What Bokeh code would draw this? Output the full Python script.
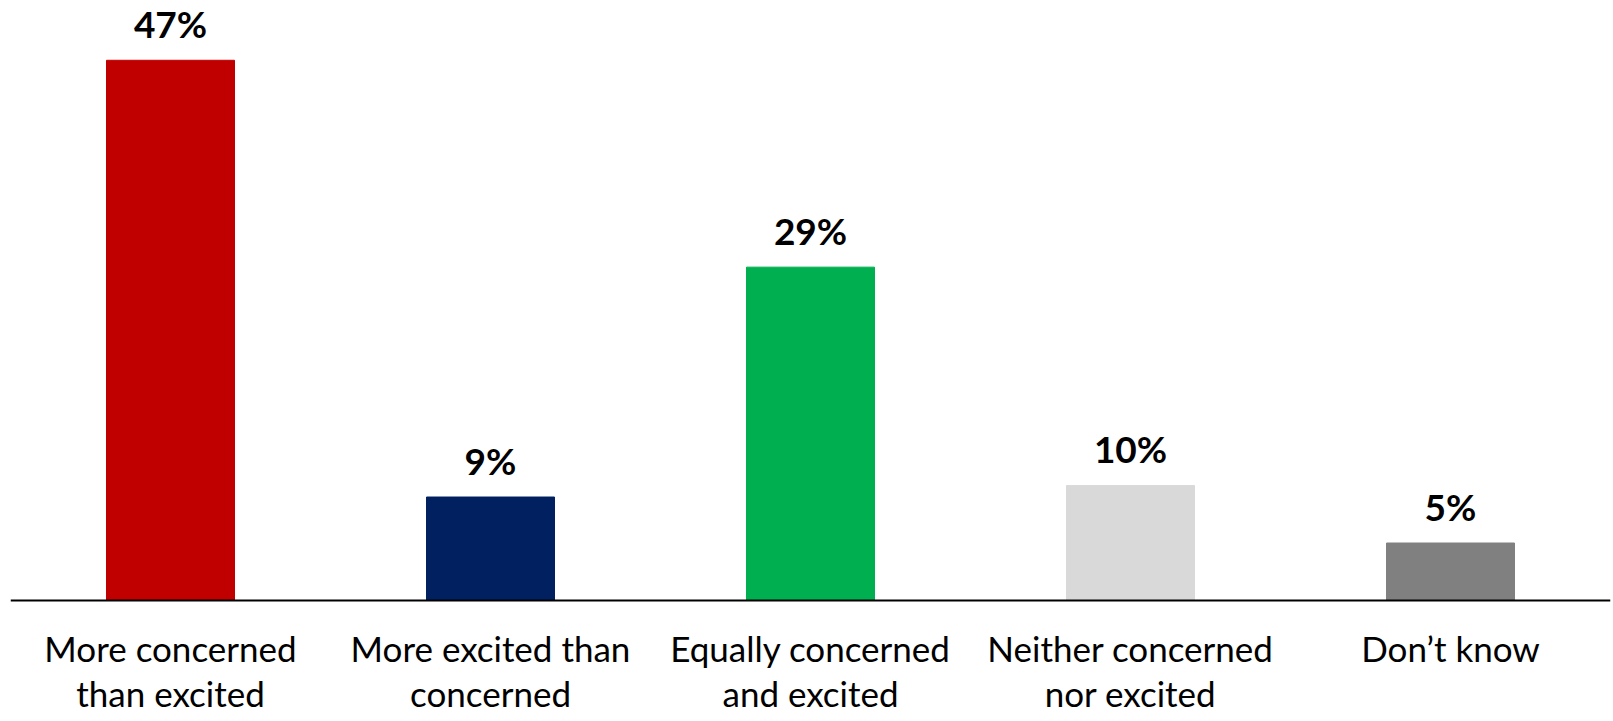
from bokeh.plotting import figure
from bokeh.models import ColumnDataSource, FactorRange, Range1d, Span
from bokeh.core.properties import value
from bokeh.embed import file_html
from bokeh.resources import INLINE

categories = ["More concerned than excited", "More excited than concerned",
              "Equally concerned and excited", "Neither concerned nor excited", "Don’t know"]
tick_labels = ["More concerned\nthan excited", "More excited than\nconcerned",
               "Equally concerned\nand excited", "Neither concerned\nnor excited", "Don’t know"]
values = [47, 9, 29, 10, 5]
value_labels = ["47%", "9%", "29%", "10%", "5%"]
colors = ["#C00000", "#002060", "#00B050", "#D9D9D9", "#808080"]

src = ColumnDataSource(dict(cat=categories, val=values, lab=value_labels, col=colors,
                            tick=tick_labels, zero=[0] * len(values)))

p = figure(x_range=FactorRange(*categories, range_padding=0), y_range=Range1d(-10.53, 52.2),
           frame_width=1600, frame_height=721, min_border_left=10, min_border_right=3,
           min_border_top=0, min_border_bottom=0, output_backend="svg",
           toolbar_location=None, y_axis_location=None, x_axis_location=None,
           outline_line_color=None, background_fill_color="white", border_fill_color="white")

p.vbar(x="cat", top="val", width=0.4, color="col", source=src)
p.add_layout(Span(location=0, dimension="width", line_color="black", line_width=2))

p.text(x="cat", y="val", text="lab", source=src, text_align="center",
       text_baseline="alphabetic", y_offset=-37, text_font=value("Lato"),
       text_font_style="bold", text_font_size="37px", text_color="black")
p.text(x="cat", y="zero", text="tick", source=src, text_align="center",
       text_baseline="top", y_offset=27, text_font=value("Lato"),
       text_font_size="35px", text_color="black", text_line_height=1.05)

p.xgrid.visible = False
p.ygrid.visible = False

open("out.html", "w").write(file_html(p, INLINE))
